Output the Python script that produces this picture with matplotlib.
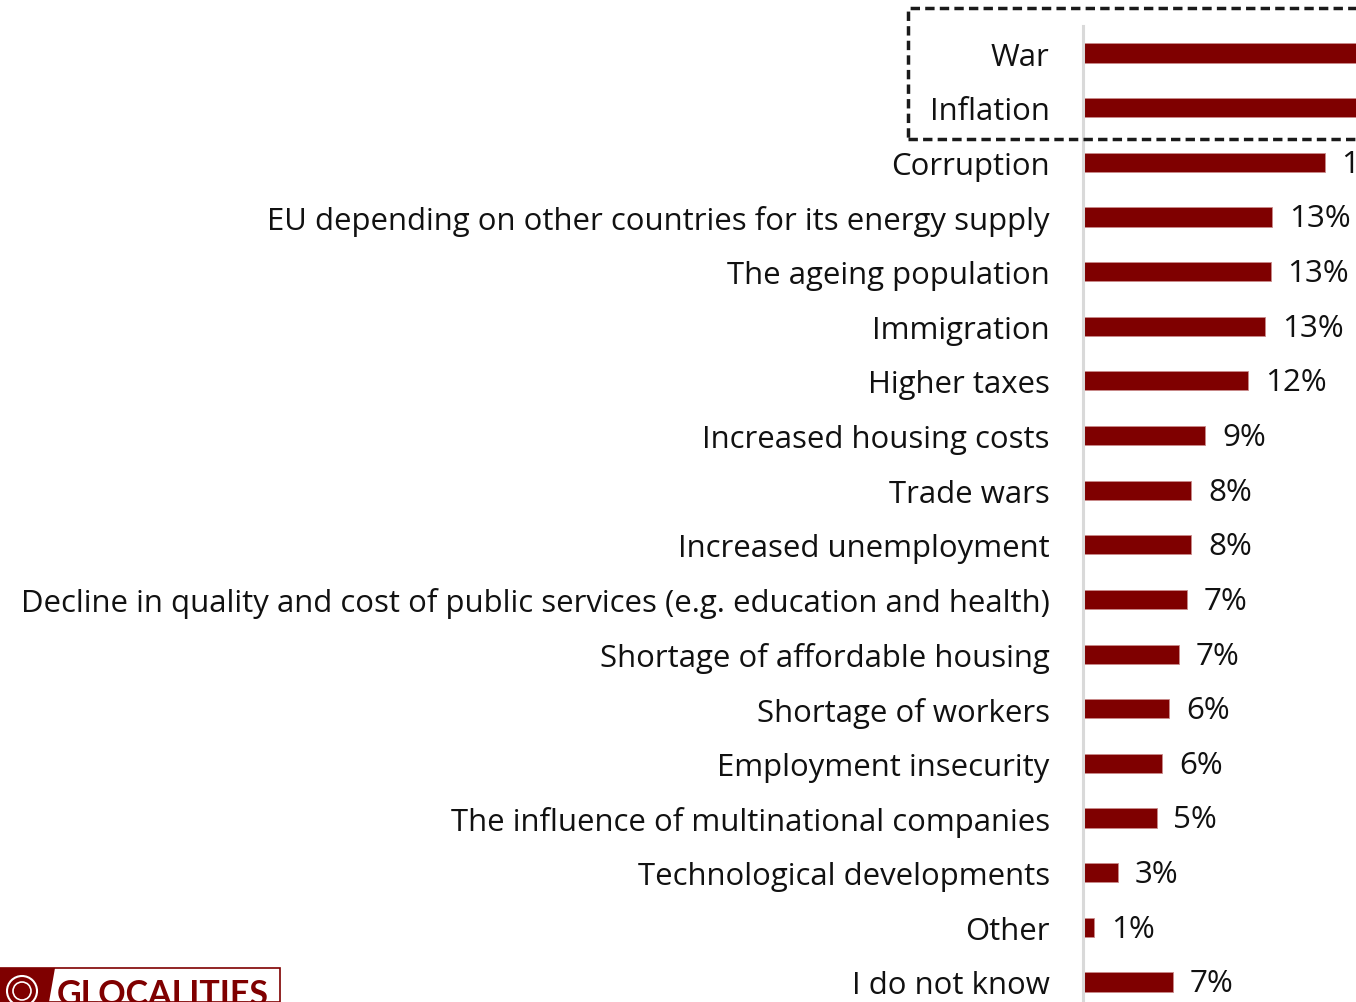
import matplotlib
matplotlib.use("Agg")
import matplotlib.pyplot as plt
from matplotlib.patches import Rectangle, Polygon, Circle
import numpy as np

# ---------------- data ----------------
categories = [
    "War", "Inflation", "Corruption",
    "EU depending on other countries for its energy supply",
    "The ageing population", "Immigration", "Higher taxes",
    "Increased housing costs", "Trade wars", "Increased unemployment",
    "Decline in quality and cost of public services (e.g. education and health)",
    "Shortage of affordable housing", "Shortage of workers",
    "Employment insecurity", "The influence of multinational companies",
    "Technological developments", "Other", "I do not know",
]
values = [33.0, 28.0, 17.4, 13.6, 13.5, 13.1, 11.9, 8.8, 7.8, 7.8,
          7.5, 6.9, 6.2, 5.7, 5.3, 2.5, 0.8, 6.5]
value_labels = ["33%", "28%", "17%", "13%", "13%", "13%", "12%", "9%", "8%",
                "8%", "7%", "7%", "6%", "6%", "5%", "3%", "1%", "7%"]

RED = "#7F0000"
FONT = ["Open Sans", "DejaVu Sans"]

W, H = 1356, 1003
fig = plt.figure(figsize=(W / 100, H / 100), dpi=100)
fig.patch.set_facecolor("white")

# axes geometry (pixels)
left_px = 1083
row0, rowN = 54, 983
n = len(categories)
step = (rowN - row0) / (n - 1)
top_px = row0 - step / 2
bot_px = rowN + step / 2
ax = fig.add_axes([left_px / W, (H - bot_px) / H, 1 - left_px / W, (bot_px - top_px) / H])

y = np.arange(n)
ax.barh(y, values, height=0.35, color=RED, edgecolor="#c98a8a", linewidth=0.6, zorder=2)
px_per_unit = 13.9
ax.set_xlim(0, (W - left_px) / px_per_unit)
ax.set_ylim(n - 0.5, -0.5)

for s in ["top", "right", "bottom"]:
    ax.spines[s].set_visible(False)
ax.spines["left"].set_color("#d9d9d9")
ax.spines["left"].set_linewidth(2.2)
ax.set_xticks([])
ax.set_yticks(y)
ax.set_yticklabels(categories, fontsize=22.4, family=FONT, color="#111111")
ax.tick_params(axis="y", length=0, pad=24)

for yi, v, lab in zip(y, values, value_labels):
    ax.annotate(lab, (v, yi), xytext=(12, -1), textcoords="offset points",
                va="center", ha="left", fontsize=22.6, family=FONT, color="#111111",
                annotation_clip=False)

# dashed highlight box around War / Inflation
box = Rectangle((908 / W, (H - 140) / H), 1.2, (140 - 9) / H, transform=fig.transFigure,
                fill=False, edgecolor="#1a1a1a", linewidth=2.5,
                linestyle=(0, (2.7, 1.5)), clip_on=False, zorder=5)
fig.add_artist(box)

# logo
logo_top = 969
frame = Rectangle((0, 0), 280 / W, (H - logo_top) / H, transform=fig.transFigure,
                  facecolor="white", edgecolor=RED, linewidth=1.2, zorder=6)
fig.add_artist(frame)
red_part = Polygon([(0, (H - logo_top) / H), (55 / W, (H - logo_top) / H),
                    (49 / W, 0), (0, 0)], closed=True, transform=fig.transFigure,
                   facecolor=RED, edgecolor="none", zorder=7)
fig.add_artist(red_part)
globe = Circle((22, H - 992), 15, transform=None, fill=False, edgecolor="white",
               linewidth=1.5, zorder=8)
fig.add_artist(globe)
globe2 = Circle((22, H - 992), 9, transform=None, fill=False, edgecolor="white",
                linewidth=1.2, zorder=8)
fig.add_artist(globe2)
fig.text(57 / W, (H - 1005) / H, "GLOCALITIES", fontsize=24.5, fontweight="bold",
         family=["Lato", "DejaVu Sans"], color=RED, ha="left", va="baseline", zorder=8)

fig.savefig("out.png", dpi=100, facecolor="white")
